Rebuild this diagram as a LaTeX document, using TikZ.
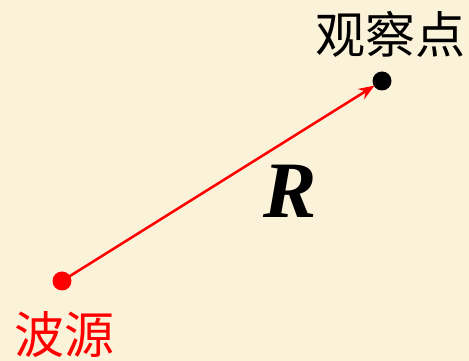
\documentclass[tikz,border=0pt]{standalone}
\usepackage{fontspec}
\usepackage{xcolor}
\usepackage{tikz}
\usetikzlibrary{positioning, calc, arrows.meta}
\newfontfamily\cjk{Noto Sans CJK SC}
\newfontfamily\rfont{Liberation Serif}
\definecolor{paper}{RGB}{251,242,218}
\definecolor{wavered}{RGB}{255,0,0}

\begin{document}
\begin{tikzpicture}[x=1pt, y=1pt, >=Stealth,
    dotmark/.style={circle, inner sep=0pt, minimum size=19pt},
    hanzi/.style={font=\cjk\fontsize{50}{50}\selectfont, inner sep=0pt}]

    % --- Background ---
    \fill[paper] (0,0) rectangle (469,361);
    \useasboundingbox (0,0) rectangle (469,361);

    % --- Points ---
    % Source
    \node[dotmark, fill=wavered] (src) at (62,80) {};
    % Observer
    \node[dotmark, fill=black] (obs) at (382,280) {};

    % --- Labels ---
    \node[hanzi, text=wavered] (srclabel) at (65,26) {波源};
    \node[hanzi] (obslabel) at (390,327) {观察点};
    \node[font=\rfont\bfseries\itshape\fontsize{80}{80}\selectfont, inner sep=0pt] (dist) at (290,170) {R};

    % --- Vector from source to observer ---
    \draw[wavered, line width=2.5pt, shorten <=-2pt, shorten >=-1pt, -{Stealth[length=16pt, width=12pt]}] (src) -- (obs);

\end{tikzpicture}
\end{document}
